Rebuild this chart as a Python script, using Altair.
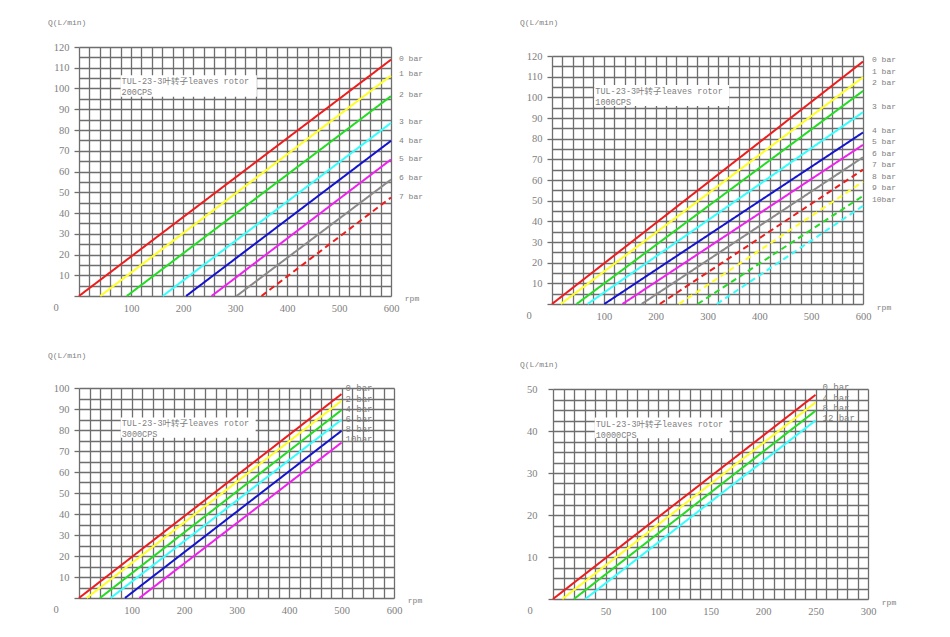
import altair as alt
import pandas as pd

MONO = "Liberation Mono, Noto Sans CJK SC"
SERIF = "Liberation Serif"
GRID = "#6e6e6e"
TXT = "#808080"

RED = "#ee1c1c"
YEL = "#ffff22"
GRN = "#22dd22"
CYN = "#33ffff"
BLU = "#1414d0"
MAG = "#ee22ee"
GRY = "#8a8a8a"

BOX_TITLE = "TUL-23-3叶转子leaves rotor"

# ---------- Panel A : 200CPS ----------
a_bars = ["0 bar", "1 bar", "2 bar", "3 bar", "4 bar", "5 bar", "6 bar", "7 bar"]
a_start_rpm = [0, 41, 92, 161, 206, 255, 303, 351]
a_end_rpm = 600
a_end_q = [113.9, 106.2, 96.3, 83.4, 74.8, 65.8, 56.1, 47.5]
a_label_q = [114, 107, 97, 83.7, 74.8, 66, 56.8, 47.5]
a_colors = [RED, YEL, GRN, CYN, BLU, MAG, GRY, RED]
a_dash = ["solid"] * 7 + ["dashed"]
a_box = [80, 342, 96, 106.4]

# ---------- Panel B : 1000CPS ----------
b_bars = ["0 bar", "1 bar", "2 bar", "3 bar", "4 bar", "5 bar", "6 bar",
          "7 bar", "8 bar", "9 bar", "10bar"]
b_start_rpm = [0, 17, 47.5, 68.7, 101, 136, 173, 208, 245, 281, 318]
b_end_rpm = 600
b_end_q = [117.3, 109.7, 103.1, 92.8, 83, 77, 71, 65, 59.2, 52.3, 47.5]
b_label_q = [118, 112.4, 107, 95.5, 83.9, 78.6, 72.8, 67.2, 61.5, 55.9, 50.4]
b_colors = [RED, YEL, GRN, CYN, BLU, MAG, GRY, RED, YEL, GRN, CYN]
b_dash = ["solid"] * 7 + ["dashed"] * 4
b_box = [81.6, 341.8, 95.8, 106]

# ---------- Panel C : 3000CPS ----------
c_bars = ["0 bar", "2 bar", "4 bar", "6 bar", "8 bar", "10bar"]
c_start_rpm = [0, 14.6, 40, 60.3, 87.6, 115]
c_end_rpm = 500
c_end_q = [97.1, 93.9, 89.5, 84.9, 79.6, 74]
c_label_q = [99.8, 94.9, 90, 85.2, 80.4, 75.6]
c_colors = [RED, YEL, GRN, CYN, BLU, MAG]
c_dash = ["solid"] * 6
c_box = [79.4, 336.5, 76.3, 86]

# ---------- Panel D : 10000CPS ----------
d_bars = ["0 bar", "4 bar", "8 bar", "12 bar"]
d_start_rpm = [0, 8.9, 20, 30.8]
d_end_rpm = 250
d_end_q = [48.6, 46.8, 44.8, 42.5]
d_label_q = [50.5, 47.8, 45.4, 43]
d_colors = [RED, YEL, GRN, CYN]
d_dash = ["solid"] * 4
d_box = [39.7, 168.3, 38.3, 43.2]


def panel(bars, start_rpm, end_rpm, end_q, label_q, colors, dashes, box, cps,
          xmax, ymax, xstep, ystep, xlab, ylab, width, height,
          title_dx, title_offset, label_dx, label_size, rpm_dy, ylab_pad):
    rows = []
    for i, b in enumerate(bars):
        rows.append({"bar": b, "rpm": start_rpm[i], "q": 0, "c": colors[i], "d": dashes[i]})
        rows.append({"bar": b, "rpm": end_rpm, "q": end_q[i], "c": colors[i], "d": dashes[i]})
    lines = pd.DataFrame(rows)
    labels = pd.DataFrame({"bar": bars, "rpm": [end_rpm] * len(bars), "q": label_q})
    boxdf = pd.DataFrame({"rpm": [box[0]], "rpm2": [box[1]], "q": [box[2]], "q2": [box[3]],
                          "t": [BOX_TITLE + "\n" + cps]})
    corner = pd.DataFrame({"rpm": [0, xmax], "q": [0, 0], "t": ["0", "rpm"]})

    xaxis = alt.Axis(
        values=list(range(0, xmax + 1, xstep)),
        labelExpr=f"datum.value % {xlab} == 0 && datum.value > 0 ? datum.label : ''",
        grid=True, gridColor=GRID, gridWidth=1.3, domain=False, ticks=False,
        labelFont=SERIF, labelFontSize=10.5, labelColor=TXT, labelPadding=7,
        labelFlush=False, labelOverlap=False, title=None,
    )
    yvals = [i * ystep for i in range(int(round(ymax / ystep)) + 1)]
    yaxis = alt.Axis(
        values=yvals,
        labelExpr=f"datum.value % {ylab} == 0 && datum.value > 0 ? datum.label : ''",
        grid=True, gridColor=GRID, gridWidth=1.3, domain=False, ticks=True,
        tickSize=5, tickColor=GRID, tickWidth=1.3,
        tickOpacity={"expr": f"datum.value % {ylab} == 0 ? 1 : 0"},
        labelFont=SERIF, labelFontSize=10.5, labelColor=TXT, labelPadding=ylab_pad,
        labelFlush=False, labelOverlap=False, title=None,
    )
    xs = alt.Scale(domain=[0, xmax], nice=False, zero=True)
    ys = alt.Scale(domain=[0, ymax], nice=False, zero=True)

    def X(f="rpm"):
        return alt.X(f"{f}:Q", scale=xs, axis=xaxis)

    def Y(f="q"):
        return alt.Y(f"{f}:Q", scale=ys, axis=yaxis)

    rect = alt.Chart(boxdf).mark_rect(fill="white").encode(
        x=X(), x2="rpm2:Q", y=Y(), y2="q2:Q")
    boxtext = alt.Chart(boxdf).mark_text(
        align="left", baseline="top", dx=1, dy=2, lineBreak="\n", lineHeight=11,
        font=MONO, fontSize=8.5, color=TXT).encode(
        x=X(), y=alt.Y("q2:Q", scale=ys, axis=yaxis), text="t:N")
    ln = alt.Chart(lines).mark_line(strokeWidth=2).encode(
        x=X(), y=Y(), detail="bar:N",
        color=alt.Color("c:N", scale=None),
        strokeDash=alt.StrokeDash("d:N", scale=alt.Scale(domain=["solid", "dashed"],
                                                         range=[[1, 0], [6, 4]]), legend=None),
    )
    lab = alt.Chart(labels).mark_text(
        align="left", baseline="middle", dx=label_dx, font=MONO,
        fontSize=label_size, color=TXT).encode(x=X(), y=Y(), text="bar:N")
    zero = alt.Chart(corner.iloc[[0]]).mark_text(
        align="center", baseline="middle", dx=-23, dy=12, font=SERIF,
        fontSize=10.5, color=TXT).encode(x=X(), y=Y(), text="t:N")
    rpm = alt.Chart(corner.iloc[[1]]).mark_text(
        align="center", baseline="middle", dx=21, dy=rpm_dy, font=MONO,
        fontSize=8, color=TXT).encode(x=X(), y=Y(), text="t:N")

    return alt.layer(rect, ln, boxtext, lab, zero, rpm).properties(
        width=width, height=height,
        title=alt.TitleParams("Q(L/min)", anchor="start", frame="group", dx=title_dx,
                              offset=title_offset, font=MONO, fontSize=8,
                              fontWeight="normal", color=TXT),
    )


def spacer():
    return alt.Chart(pd.DataFrame({"s": [0]})).mark_text(text="").properties(
        width=1, height=1, view=alt.ViewBackground(strokeOpacity=0))


pa = panel(a_bars, a_start_rpm, a_end_rpm, a_end_q, a_label_q, a_colors, a_dash, a_box,
           "200CPS", 600, 120, 20, 5, 100, 10, 312, 249, -31, 15, 8, 8, 3, 5)
pb = panel(b_bars, b_start_rpm, b_end_rpm, b_end_q, b_label_q, b_colors, b_dash, b_box,
           "1000CPS", 600, 120, 20, 5, 100, 10, 311, 248, -32, 24, 9, 8, 4, 5)
pc = panel(c_bars, c_start_rpm, c_end_rpm, c_end_q, c_label_q, c_colors, c_dash, c_box,
           "3000CPS", 600, 100, 20, 5, 100, 10, 315, 210, -31, 23, 4, 9, 3, 5)
pd_ = panel(d_bars, d_start_rpm, d_end_rpm, d_end_q, d_label_q, d_colors, d_dash, d_box,
            "10000CPS", 300, 50, 10, 2.5, 50, 10, 315, 210, -33, 14, 7, 9, 4, 11)

chart = alt.concat(spacer(), spacer(), pa, pb, pc, pd_, columns=2, align="none",
                   spacing={"row": 37, "column": 95}).properties(
    padding={"left": 39, "top": -39, "right": 5, "bottom": 5}
).configure_view(stroke=GRID, strokeWidth=1.3).configure(background="white")

chart.save("out.html", embed_options={"renderer": "svg", "actions": False})
